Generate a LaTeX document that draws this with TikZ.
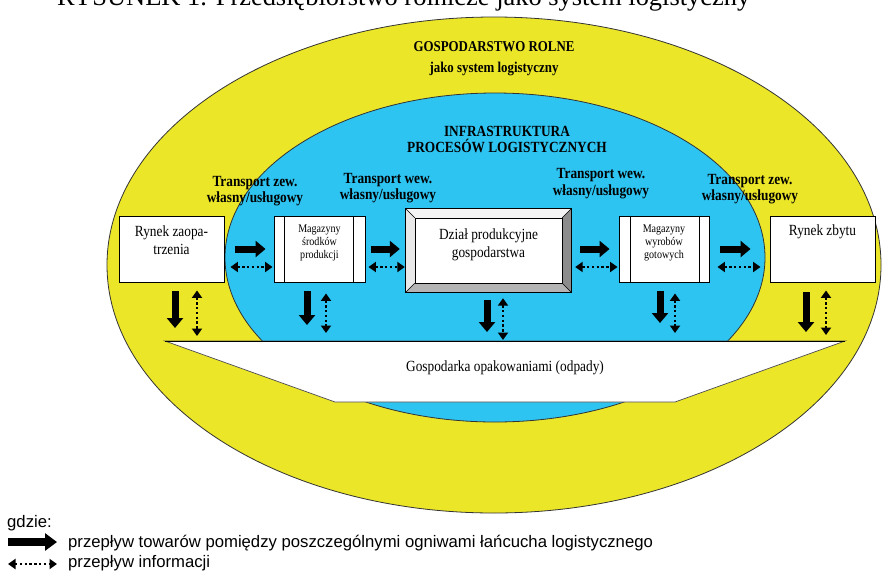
\documentclass[tikz,border=0pt]{standalone}
\usepackage{graphicx}
\usepackage{fontspec}
\setmainfont{Liberation Serif}
\newfontfamily\cond[FakeStretch=0.86]{Liberation Serif}
\newfontfamily\lsans{Liberation Sans}
\usetikzlibrary{arrows.meta}
\definecolor{ycol}{RGB}{235,230,40}
\definecolor{bcol}{RGB}{45,196,242}
\definecolor{bevtop}{RGB}{244,244,244}
\definecolor{bevleft}{RGB}{232,232,232}
\definecolor{bevright}{RGB}{140,140,140}
\definecolor{bevbot}{RGB}{180,180,180}
\tikzset{
  lbl/.style={font=\cond\bfseries\fontsize{15.5}{16.5}\selectfont, align=center, inner sep=0pt},
  txt/.style={font=\cond\fontsize{15.5}{18}\selectfont, align=center, inner sep=0pt},
  smalltxt/.style={font=\cond\fontsize{11.7}{13}\selectfont, align=center, inner sep=0pt},
  legtxt/.style={font=\lsans\fontsize{16.7}{20}\selectfont, anchor=base west, inner sep=0pt},
  wbox/.style={draw=black, line width=0.9pt, fill=white, inner sep=0pt},
  goods/.style={line width=7pt, -{Triangle[width=16pt,length=10pt]}},
  info/.style={line width=2.3pt, dash pattern=on 2.4pt off 2.4pt,
    {Triangle[width=10pt,length=7.5pt]}-{Triangle[width=10pt,length=7.5pt]}},
  divline/.style={line width=0.9pt},
}
\begin{document}
\begin{tikzpicture}[x=1pt,y=-1pt]
\useasboundingbox (0,0) rectangle (885,571);
% cut-off caption at top
\begin{scope}
\clip (0,0) rectangle (885,571);
\node[anchor=base west, inner sep=0pt] (title) at (57,5)
  {\resizebox{693pt}{!}{\fontsize{20}{20}\selectfont RYSUNEK 1. Przedsiębiorstwo rolnicze jako system logistyczny}};
\end{scope}
% ellipses
\path[fill=ycol, draw=black!80, line width=0.8pt] (494,265) ellipse [x radius=387pt, y radius=248pt];
\path[fill=bcol, draw=black!80, line width=0.8pt] (495,257.5) ellipse [x radius=270pt, y radius=164.5pt];
% packaging / waste trapezoid
\path[fill=white, draw=black!70, line width=0.7pt] (165,341) -- (845,341) -- (675,402) -- (335,402) -- cycle;
\draw[line width=1pt] (165,341) -- (845,341);
\coordinate (gtop) at (505,341);
\node[txt] (gosp) at (505,368) {Gospodarka opakowaniami (odpady)};
% headings
\node[lbl, font=\cond\bfseries\fontsize{15}{21}\selectfont] (h1) at (494,59) {GOSPODARSTWO ROLNE\\jako system logistyczny};
\node[lbl] (h2) at (507,139.5) {INFRASTRUKTURA\\PROCESÓW LOGISTYCZNYCH};
% transport labels
\node[lbl] (l1) at (255,191) {Transport zew.\\własny/usługowy};
\node[lbl] (l2) at (388,188) {Transport wew.\\własny/usługowy};
\node[lbl] (l3) at (601,183.5) {Transport wew.\\własny/usługowy};
\node[lbl] (l4) at (750,189) {Transport zew.\\własny/usługowy};
% boxes
\node[wbox, minimum width=105pt, minimum height=66pt] (r1) at (171.5,249) {};
\node[txt] (tr1) at ([yshift=-25pt]r1.north) {Rynek zaopa-\\trzenia};

\node[wbox, minimum width=91pt, minimum height=66pt] (m1) at (319.5,249) {};
\draw[divline] ([xshift=11pt]m1.north west) -- ([xshift=11pt]m1.south west);
\draw[divline] ([xshift=-12pt]m1.north east) -- ([xshift=-12pt]m1.south east);
\node[smalltxt] (tm1) at ([yshift=6pt]m1.center) {Magazyny\\środków\\produkcji};

\node[inner sep=0pt, minimum width=165pt, minimum height=83pt] (d) at (488.5,250.5) {};
\coordinate (dnw) at ([xshift=9pt,yshift=-9pt]d.north west);
\coordinate (dne) at ([xshift=-9pt,yshift=-9pt]d.north east);
\coordinate (dse) at ([xshift=-9pt,yshift=9pt]d.south east);
\coordinate (dsw) at ([xshift=9pt,yshift=9pt]d.south west);
\fill[bevtop] (d.north west) -- (d.north east) -- (dne) -- (dnw) -- cycle;
\fill[bevleft] (d.north west) -- (dnw) -- (dsw) -- (d.south west) -- cycle;
\fill[bevright] (d.north east) -- (d.south east) -- (dse) -- (dne) -- cycle;
\fill[bevbot] (d.south west) -- (dsw) -- (dse) -- (d.south east) -- cycle;
\fill[white] (dnw) rectangle (dse);
\draw[line width=0.5pt] (d.north west) -- (dnw) (d.north east) -- (dne) (d.south east) -- (dse) (d.south west) -- (dsw);
\draw[line width=0.6pt] (dnw) rectangle (dse);
\draw[line width=1pt] (d.north west) rectangle (d.south east);
\node[txt] (td) at ([yshift=6pt]d.center) {Dział produkcyjne\\gospodarstwa};

\node[wbox, minimum width=90pt, minimum height=66pt] (m2) at (664,249) {};
\draw[divline] ([xshift=12pt]m2.north west) -- ([xshift=12pt]m2.south west);
\draw[divline] ([xshift=-10pt]m2.north east) -- ([xshift=-10pt]m2.south east);
\node[smalltxt] (tm2) at ([yshift=6pt]m2.center) {Magazyny\\wyrobów\\gotowych};

\node[wbox, minimum width=105pt, minimum height=66pt] (r2) at (822.5,249) {};
\node[txt] (tr2) at ([yshift=-16pt]r2.north) {Rynek zbytu};
% horizontal flows
\draw[goods, shorten <=11pt, shorten >=8pt] (r1.east) -- (m1.west);
\draw[info, shorten <=6pt, shorten >=1pt] ([yshift=-18pt]r1.east) -- ([yshift=-18pt]m1.west);
\draw[goods, shorten <=6pt, shorten >=6pt] (m1.east) -- ([yshift=1.5pt]d.west);
\draw[info, shorten <=3pt, shorten >=1pt] ([yshift=-18pt]m1.east) -- ([yshift=-16.5pt]d.west);
\draw[goods, shorten <=9pt, shorten >=9pt] ([yshift=1.5pt]d.east) -- (m2.west);
\draw[info, shorten <=4pt, shorten >=1pt] ([yshift=-16.5pt]d.east) -- ([yshift=-18pt]m2.west);
\draw[goods, shorten <=11pt, shorten >=19pt] (m2.east) -- (r2.west);
\draw[info, shorten <=8pt, shorten >=9pt] ([yshift=-18pt]m2.east) -- ([yshift=-18pt]r2.west);
% vertical flows
\coordinate (v1a) at (175,0); \coordinate (v1b) at (197,0);
\coordinate (v2a) at (307,0); \coordinate (v2b) at (326,0);
\coordinate (v3a) at (487,0); \coordinate (v3b) at (503,0);
\coordinate (v4a) at (660,0); \coordinate (v4b) at (675,0);
\coordinate (v5a) at (806,0); \coordinate (v5b) at (826,0);
\draw[goods, shorten <=9pt, shorten >=13pt] (r1.south -| v1a) -- (gtop -| v1a);
\draw[info, shorten <=8pt, shorten >=5pt] (r1.south -| v1b) -- (gtop -| v1b);
\draw[goods, shorten <=9pt, shorten >=16pt] (m1.south -| v2a) -- (gtop -| v2a);
\draw[info, shorten <=11pt, shorten >=8pt] (m1.south -| v2b) -- (gtop -| v2b);
\draw[goods, shorten <=8pt, shorten >=9pt] (d.south -| v3a) -- (gtop -| v3a);
\draw[info, shorten <=6pt, shorten >=1pt] (d.south -| v3b) -- (gtop -| v3b);
\draw[goods, shorten <=9pt, shorten >=18pt] (m2.south -| v4a) -- (gtop -| v4a);
\draw[info, shorten <=11pt, shorten >=8pt] (m2.south -| v4b) -- (gtop -| v4b);
\draw[goods, shorten <=10pt, shorten >=9pt] (r2.south -| v5a) -- (gtop -| v5a);
\draw[info, shorten <=8pt, shorten >=6pt] (r2.south -| v5b) -- (gtop -| v5b);
% legend
\node[legtxt] (gdz) at (7,527) {gdzie:};
\coordinate (la1) at (8,542); \coordinate (la2) at (57,542);
\draw[goods, line width=8pt, -{Triangle[width=17pt,length=12pt]}] (la1) -- (la2);
\node[legtxt] (lt1) at (68,547.5) {przepływ towarów pomiędzy poszczególnymi ogniwami łańcucha logistycznego};
\coordinate (lb1) at (8,564); \coordinate (lb2) at (57,564);
\draw[info] (lb1) -- (lb2);
\node[legtxt] (lt2) at (68,567.5) {przepływ informacji};
\end{tikzpicture}
\end{document}
